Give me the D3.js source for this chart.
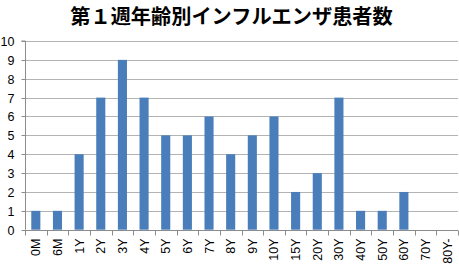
<!DOCTYPE html>
<html><head><meta charset="utf-8">
<script src="https://cdn.jsdelivr.net/npm/d3@7"></script>
<style>body{margin:0;background:#fff}svg{display:block}</style>
</head><body>
<script>
const categories = ["0M","6M","1Y","2Y","3Y","4Y","5Y","6Y","7Y","8Y","9Y","10Y","15Y","20Y","30Y","40Y","50Y","60Y","70Y","80Y-"];
const values = [1,1,4,7,9,7,5,5,6,4,5,6,2,3,7,1,1,2,0,0];
const yTicks = [0,1,2,3,4,5,6,7,8,9,10];
const title = "第１週年齢別インフルエンザ患者数";

const W = 459, H = 267;
const m = {left:25, right:1, top:41, bottom:37.3};
const svg = d3.select("body").append("svg").attr("width",W).attr("height",H);
const x = d3.scaleBand().domain(categories).range([m.left, W-m.right]).paddingInner(0.58).paddingOuter(0.29);
const y = d3.scaleLinear().domain([0,10]).range([H-m.bottom, m.top]);
const font = "'Liberation Sans', Arial, sans-serif";

svg.append("text").attr("x",231.5).attr("y",23.5).attr("text-anchor","middle")
  .attr("font-family","'Noto Sans CJK JP', sans-serif").attr("font-weight","bold").attr("font-size",20.2)
  .attr("fill","#000").text(title);

// gridlines
svg.append("g").selectAll("line").data(yTicks.filter(d=>d>0)).join("line")
  .attr("x1",m.left).attr("x2",W-m.right).attr("y1",d=>Math.round(y(d))+0.5).attr("y2",d=>Math.round(y(d))+0.5)
  .attr("stroke","#b3b3b3").attr("stroke-width",1);

// y axis
const ya = svg.append("g").attr("transform",`translate(${m.left+0.5},0)`)
  .call(d3.axisLeft(y).tickValues(yTicks).tickSize(4).tickPadding(7));
ya.select(".domain").attr("stroke","#8c8c8c").attr("d",`M-4,${y(10)}H0V${y(0)}`);
ya.selectAll(".tick line").attr("stroke","#8c8c8c");
ya.selectAll(".tick text").attr("font-family",font).attr("font-size",12.5).attr("fill","#000");
ya.selectAll(".tick").attr("transform",d=>`translate(0,${Math.round(y(d))+0.5})`);

// bars
svg.append("g").selectAll("rect").data(values).join("rect")
  .attr("x",(d,i)=>x(categories[i])).attr("width",x.bandwidth())
  .attr("y",d=>y(d)).attr("height",d=>y(0)-y(d)).attr("fill","#4a7ebb");

// x axis
const y0 = Math.round(y(0))+0.5;
const xa = svg.append("g").attr("transform",`translate(0,${y0})`);
xa.append("line").attr("x1",m.left).attr("x2",W-m.right).attr("stroke","#8c8c8c");
const bounds = d3.range(categories.length+1).map(i=>m.left + i*(W-m.right-m.left)/categories.length);
xa.selectAll("line.t").data(bounds).join("line").attr("class","t")
  .attr("x1",d=>Math.round(d)+0.5).attr("x2",d=>Math.round(d)+0.5).attr("y1",0).attr("y2",5).attr("stroke","#8c8c8c");
xa.selectAll("text").data(categories).join("text")
  .attr("transform",d=>`translate(${x(d)+x.bandwidth()/2+4.5},8) rotate(-90)`)
  .attr("text-anchor","end").attr("font-family",font).attr("font-size",12.5).attr("fill","#000").text(d=>d);
</script>
</body></html>
